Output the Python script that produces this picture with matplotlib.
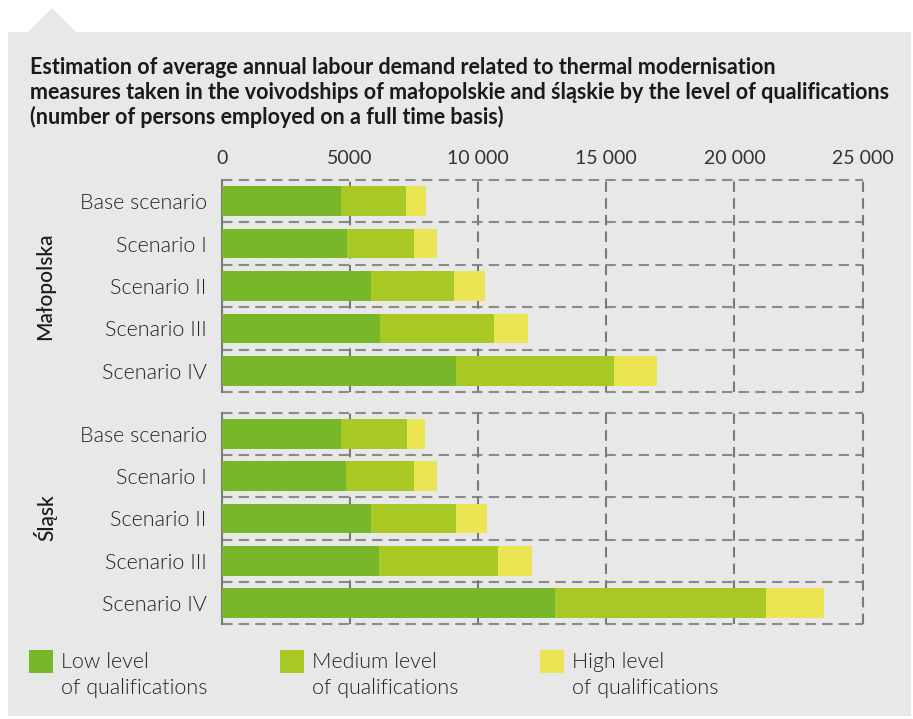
import matplotlib
matplotlib.use("Agg")
import matplotlib.pyplot as plt
from matplotlib.patches import Polygon, Rectangle
from matplotlib import font_manager as fm

plt.rcParams['font.family'] = ['Lato', 'DejaVu Sans']

# ---- data ----
scenarios = ["Base scenario", "Scenario I", "Scenario II", "Scenario III", "Scenario IV"]
regions = ["Małopolska", "Śląsk"]
# segment widths (persons)
malo_low = [4650, 4880, 5815, 6170, 9135]
malo_med = [2530, 2610, 3240, 4445, 6165]
malo_high = [780, 900, 1210, 1330, 1680]
slask_low = [4650, 4840, 5815, 6130, 12995]
slask_med = [2575, 2645, 3310, 4650, 8245]
slask_high = [700, 905, 1220, 1325, 2245]
legend_labels = ["Low level\nof qualifications", "Medium level\nof qualifications", "High level\nof qualifications"]
xticks = [0, 5000, 10000, 15000, 20000, 25000]
xtick_labels = ["0", "5000", "10 000", "15 000", "20 000", "25 000"]
title_lines = ["Estimation of average annual labour demand related to thermal modernisation",
               "measures taken in the voivodships of małopolskie and śląskie by the level of qualifications",
               "(number of persons employed on a full time basis)"]

colors = ["#78b72a", "#a8c823", "#ebe453"]
BG = "#e8e8e8"
W, H = 913, 719

light_path = None
for f in fm.fontManager.ttflist:
    if f.fname.endswith("Lato-Light.ttf"):
        light_path = f.fname
        break

def light(size):
    if light_path:
        return fm.FontProperties(fname=light_path, size=size)
    return fm.FontProperties(family="Lato", weight="normal", size=size)

fig = plt.figure(figsize=(W / 100, H / 100), dpi=100)
fig.patch.set_facecolor("white")

def fx(px):
    return px / W

def fy(py):
    return 1 - py / H

# panel with notch
panel = Polygon([(fx(8), fy(32)), (fx(28), fy(32)), (fx(52), fy(8)), (fx(76), fy(32)),
                 (fx(911), fy(32)), (fx(911), fy(716)), (fx(8), fy(716))],
                closed=True, transform=fig.transFigure, facecolor=BG, edgecolor="none", zorder=-10)
fig.add_artist(panel)

# title
for i, line in enumerate(title_lines):
    fig.text(fx(30), fy(74 + 25 * i), line, ha="left", va="baseline", fontsize=15.5,
             fontweight="bold", color="#1a1a1a")

def make_axes(top_px, bottom_px, low, med, high, show_x):
    ax = fig.add_axes([fx(222), fy(bottom_px), fx(862.5) - fx(222), (bottom_px - top_px) / H])
    ax.set_facecolor("none")
    ax.set_zorder(1)
    y = list(range(len(scenarios)))
    left = [0] * len(y)
    for vals, c in zip([low, med, high], colors):
        ax.barh(y, vals, left=left, height=0.7, color=c, zorder=3)
        left = [a + b for a, b in zip(left, vals)]
    ax.set_xlim(0, 25000)
    ax.set_ylim(4.5, -0.5)
    for b in [-0.5, 0.5, 1.5, 2.5, 3.5, 4.5]:
        ax.axhline(b, color="#8a8a8a", lw=1.5, ls=(0, (5, 3)), zorder=1, clip_on=False)
    for v in xticks[1:]:
        ax.axvline(v, color="#7a7a7a", lw=1.5, ls=(0, (5, 3)), zorder=1, clip_on=False)
    for s in ["top", "right", "bottom"]:
        ax.spines[s].set_visible(False)
    ax.spines["left"].set_color("#7a7a7a")
    ax.spines["left"].set_linewidth(1.5)
    ax.set_yticks(y)
    ax.set_yticklabels(scenarios, fontproperties=light(15.5), color="#222222")
    ax.tick_params(axis="y", length=0, pad=11)
    ax.set_xticks(xticks)
    if show_x:
        ax.xaxis.tick_top()
        ax.set_xticklabels(xtick_labels, fontsize=14, color="#333333")
        ax.tick_params(axis="x", length=0, pad=9)
    else:
        ax.tick_params(axis="x", length=0, labelbottom=False, labeltop=False)
    return ax

ax1 = make_axes(180, 392, malo_low, malo_med, malo_high, True)
ax2 = make_axes(412.7, 624.3, slask_low, slask_med, slask_high, False)

fig.text(fx(45), fy(286), regions[0], rotation=90, ha="center", va="center", fontsize=15,
         fontweight="medium", color="#1a1a1a")
fig.text(fx(45), fy(518), regions[1], rotation=90, ha="center", va="center", fontsize=15,
         fontweight="medium", color="#1a1a1a")

# legend
sq_x = [29, 280, 540]
for x0, c, lab in zip(sq_x, colors, legend_labels):
    fig.add_artist(Rectangle((fx(x0), fy(673)), fx(24), 23 / H, transform=fig.transFigure,
                             facecolor=c, edgecolor="none"))
    for j, part in enumerate(lab.split("\n")):
        fig.text(fx(x0 + 32), fy(668 + 25.5 * j), part, ha="left", va="baseline",
                 fontproperties=light(15.5), color="#222222")

fig.savefig("out.png", dpi=100, facecolor="white")
